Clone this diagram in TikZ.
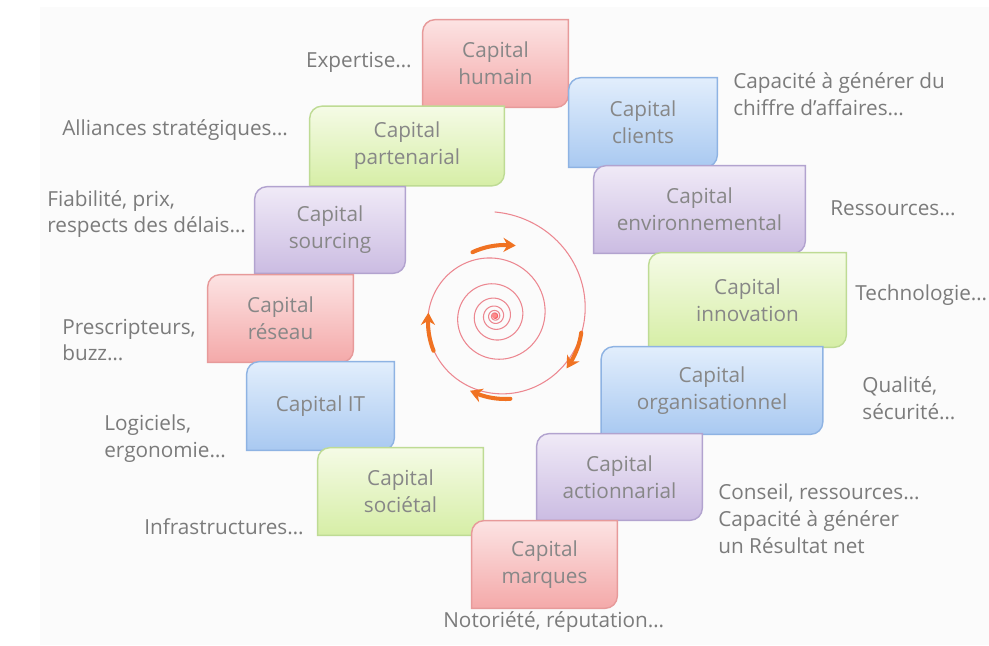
\documentclass[tikz,border=0pt]{standalone}
\usepackage{fontspec}
\setmainfont{Open Sans}
\usepackage{tikz}
\usetikzlibrary{arrows.meta,bending}
\definecolor{txtgray}{HTML}{7B7B7B}
\definecolor{boxtxt}{HTML}{878787}
\definecolor{spiralred}{HTML}{EC8790}
\definecolor{arrorange}{HTML}{F07222}
\definecolor{redtop}{HTML}{FCE3E3}
\definecolor{redbot}{HTML}{F4A9A9}
\definecolor{redline}{HTML}{E79A9A}
\definecolor{greentop}{HTML}{F5FBE6}
\definecolor{greenbot}{HTML}{D6EEA6}
\definecolor{greenline}{HTML}{BEDB94}
\definecolor{bluetop}{HTML}{E2EEFC}
\definecolor{bluebot}{HTML}{A9C9F1}
\definecolor{blueline}{HTML}{8EB3E3}
\definecolor{purpletop}{HTML}{F0EAF7}
\definecolor{purplebot}{HTML}{CBBCE2}
\definecolor{purpleline}{HTML}{B2A3CF}
\pgfdeclarelayer{bg}
\pgfsetlayers{bg,main}
\tikzset{
  every picture/.style={font=\fontsize{11.8}{15.3}\selectfont, line join=round, line cap=round, >=Stealth},
  capbox/.style={inner sep=0pt, align=center, text=boxtxt},
  note/.style={inner sep=0pt, align=left, text=txtgray},
  redbox/.style={top color=redtop, bottom color=redbot, draw=redline},
  greenbox/.style={top color=greentop, bottom color=greenbot, draw=greenline},
  bluebox/.style={top color=bluetop, bottom color=bluebot, draw=blueline},
  purplebox/.style={top color=purpletop, bottom color=purplebot, draw=purpleline},
  turn/.style={arrorange, line width=2.3pt, -{Stealth[length=7pt,width=8pt,bend]}},
}
% frame with two rounded corners (top left, bottom right), behind the node
\newcommand{\capframe}[2]{%
  \begin{pgfonlayer}{bg}
  \shade[#2, line width=0.8pt] ([xshift=7pt]#1.north west) -- (#1.north east) -- ([yshift=7pt]#1.south east)
    arc[start angle=0,end angle=-90,radius=7pt] -- (#1.south west) -- ([yshift=-7pt]#1.north west)
    arc[start angle=180,end angle=90,radius=7pt] -- cycle;
  \end{pgfonlayer}}

\begin{document}
\begin{tikzpicture}
\useasboundingbox (0,0) rectangle (19.780,12.900);
\begin{pgfonlayer}{bg}
\fill[white] (0,0) rectangle (19.780,12.900);
\fill[black!1.5] (0.800,0) rectangle (19.780,12.760);
\end{pgfonlayer}

% boxes
\node[capbox,minimum width=2.900cm,minimum height=1.740cm] (humain) at (9.910,11.630) {Capital\\humain};
\capframe{humain}{redbox}
\node[capbox,minimum width=3.880cm,minimum height=1.580cm] (partenarial) at (8.140,9.980) {Capital\\partenarial};
\capframe{partenarial}{greenbox}
\node[capbox,minimum width=2.960cm,minimum height=1.780cm] (clients) at (12.860,10.450) {Capital\\clients};
\capframe{clients}{bluebox}
\node[capbox,minimum width=4.220cm,minimum height=1.740cm] (environnemental) at (13.990,8.710) {Capital\\environnemental};
\capframe{environnemental}{purplebox}
\node[capbox,minimum width=3.940cm,minimum height=1.880cm] (innovation) at (14.950,6.900) {Capital\\innovation};
\capframe{innovation}{greenbox}
\node[capbox,minimum width=4.420cm,minimum height=1.740cm] (organisationnel) at (14.240,5.090) {Capital\\organisationnel};
\capframe{organisationnel}{bluebox}
\node[capbox,minimum width=3.000cm,minimum height=1.720cm] (sourcing) at (6.600,8.300) {Capital\\sourcing};
\capframe{sourcing}{purplebox}
\node[capbox,minimum width=2.900cm,minimum height=1.740cm] (reseau) at (5.610,6.530) {Capital\\réseau};
\capframe{reseau}{redbox}
\node[capbox,minimum width=2.940cm,minimum height=1.760cm] (it) at (6.410,4.780) {Capital IT};
\capframe{it}{bluebox}
\node[capbox,minimum width=3.300cm,minimum height=1.740cm] (societal) at (8.010,3.070) {Capital\\sociétal};
\capframe{societal}{greenbox}
\node[capbox,minimum width=3.300cm,minimum height=1.720cm] (actionnarial) at (12.390,3.360) {Capital\\actionnarial};
\capframe{actionnarial}{purplebox}
\node[capbox,minimum width=2.900cm,minimum height=1.740cm] (marques) at (10.890,1.610) {Capital\\marques};
\capframe{marques}{redbox}

% side notes
\node[note,anchor=east] (expertise) at (8.240,11.660) {Expertise…};
\node[note,anchor=west] (alliances) at (1.240,10.300) {Alliances stratégiques…};
\node[note,anchor=west] (ca) at (14.660,11.020) {Capacité à générer du\\chiffre d’affaires…};
\node[note,anchor=west] (ressources) at (16.600,8.740) {Ressources…};
\node[note,anchor=west] (techno) at (17.100,7.000) {Technologie…};
\node[note,anchor=west] (qualite) at (17.240,4.940) {Qualité,\\sécurité…};
\node[note,anchor=west] (fiabilite) at (0.940,8.620) {Fiabilité, prix,\\respects des délais…};
\node[note,anchor=west] (prescripteurs) at (1.240,6.100) {Prescripteurs,\\buzz…};
\node[note,anchor=west] (logiciels) at (2.080,4.120) {Logiciels,\\ergonomie…};
\node[note,anchor=west] (infra) at (2.880,2.360) {Infrastructures…};
\node[note,anchor=west] (conseil) at (14.360,2.520) {Conseil, ressources…\\Capacité à générer\\un Résultat net};
\node[note,anchor=west] (notoriete) at (8.860,0.460) {Notoriété, réputation…};

% spiral
\draw[spiralred,line width=0.6pt,domain=-2250:90,samples=500,variable=\t,smooth]
  plot({9.900+2.080*exp(0.5878*(\t-90)/360)*cos(\t)},{6.580+2.080*exp(0.5878*(\t-90)/360)*sin(\t)});
\fill[red!75!white,opacity=0.6] (9.900,6.580) circle (0.060);

% turning arrows
\draw[turn] (10.100,6.460) ++(115:1.540) arc[start angle=115,end angle=82,radius=1.540];
\draw[turn] (10.100,6.460) ++(-8:1.540) arc[start angle=-8,end angle=-37,radius=1.540];
\draw[turn] (10.100,6.460) ++(-86:1.540) arc[start angle=-86,end angle=-117,radius=1.540];
\draw[turn] (10.100,6.460) ++(202:1.540) arc[start angle=202,end angle=173,radius=1.540];
\end{tikzpicture}
\end{document}
